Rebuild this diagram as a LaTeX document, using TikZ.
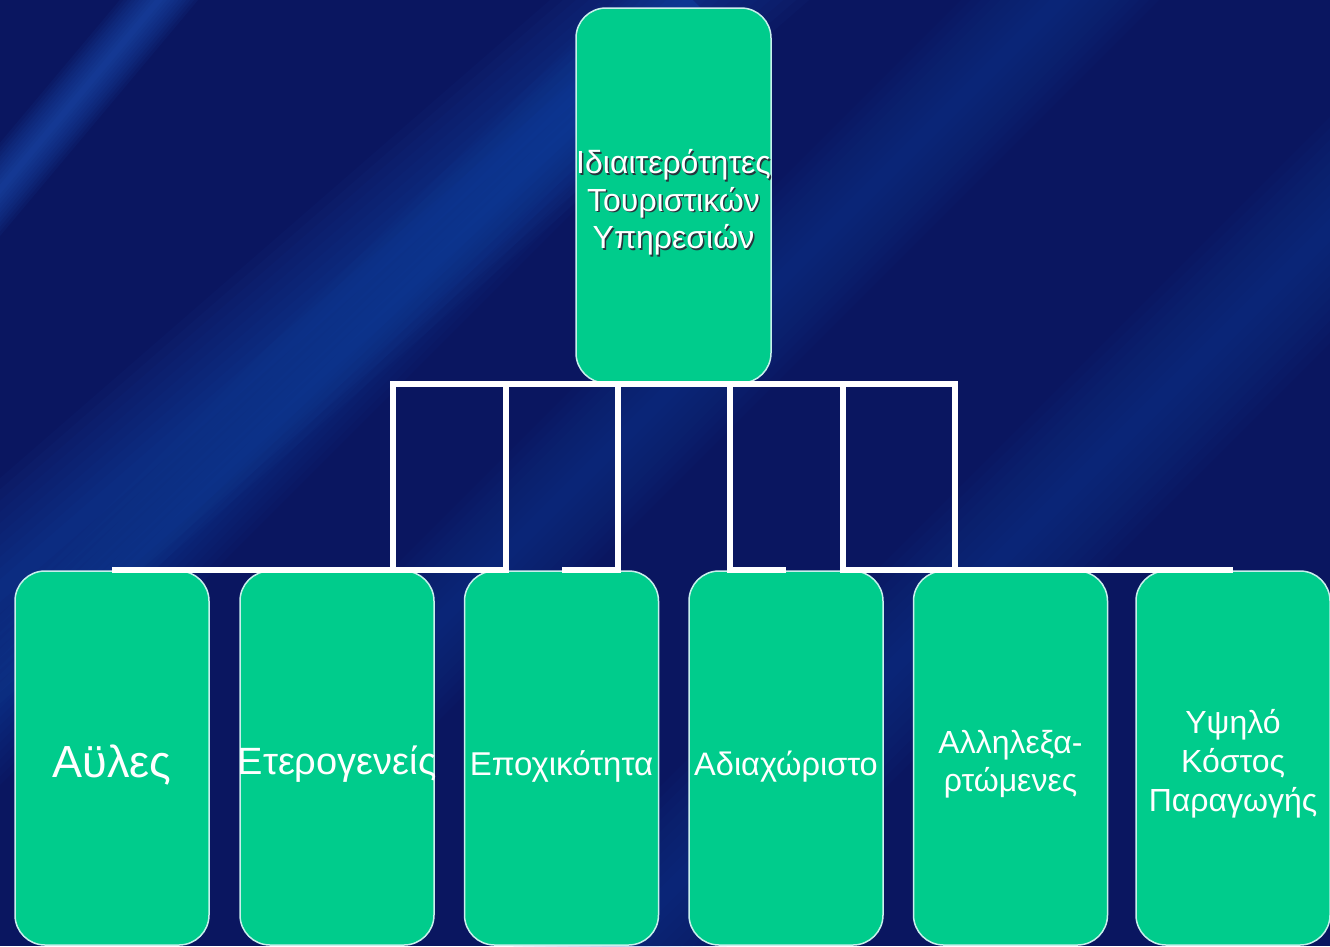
\documentclass[tikz,border=0pt]{standalone}
\usepackage{fontspec}
\setmainfont{Liberation Sans}
\definecolor{bgc}{RGB}{10,22,96}
\definecolor{streak}{RGB}{35,95,200}
\definecolor{boxfill}{RGB}{0,204,140}
\definecolor{boxline}{RGB}{200,240,236}
\definecolor{shcol}{RGB}{40,50,60}
\newcommand\shd[1]{\leavevmode\rlap{\kern1.5pt\raisebox{-1.5pt}{\textcolor{shcol}{#1}}}#1}
\newcommand\lbl[4]{\raisebox{-#4pt}[\height][\depth]{\makebox[0pt]{\fontsize{#1}{#2}\selectfont\begin{tabular}{@{}c@{}}#3\end{tabular}}}}
\newcommand\band[5]{%
  \begin{scope}[shift={(#1,#2)}, rotate=#3]
    \foreach \k in {1,...,10}{\fill[streak, opacity=#5] (-#4*\k/10,-900) rectangle (#4*\k/10,900);}
  \end{scope}}
\tikzset{
  box/.style={draw=boxline, line width=1.5pt, fill=boxfill, rounded corners=30pt,
    minimum width=194pt, minimum height=374pt, inner sep=0pt, text=white},
  conn/.style={draw=white, line width=6pt}
}
\begin{document}
\begin{tikzpicture}[x=1pt,y=-1pt]
\useasboundingbox (0,0) rectangle (1330,946);
\begin{scope}
  \clip (0,0) rectangle (1330,946);
  \fill[bgc] (0,0) rectangle (1330,946);
  \band{75}{100}{-40}{30}{0.07}
  \band{300}{330}{-49}{85}{0.045}
  \band{60}{640}{-45}{60}{0.04}
  \band{1000}{60}{-45}{70}{0.03}
  \band{1200}{360}{-45}{80}{0.03}
\end{scope}
% nodes
\node[box, minimum width=195pt, minimum height=375pt] (root) at (673.5,195.5)
  {\lbl{32}{37.5}{\shd{Ιδιαιτερότητες}\\ \shd{Τουριστικών}\\ \shd{Υπηρεσιών}}{8}};
\node[box] (c1) at (112,758) {\lbl{45}{50}{Αϋλες}{9}};
\node[box] (c2) at (337,758) {\lbl{38}{44}{Ετερογενείς}{8}};
\node[box] (c3) at (561.5,758) {\lbl{33}{38}{Εποχικότητα}{10}};
\node[box] (c4) at (786,758) {\lbl{32.5}{38}{Αδιαχώριστο}{10}};
\node[box] (c5) at (1010.5,758) {\lbl{32}{38}{Αλληλεξα-\\ ρτώμενες}{7}};
\node[box] (c6) at (1233,758) {\lbl{32}{39}{Υψηλό\\ Κόστος\\ Παραγωγής}{7}};
% connector columns
\coordinate (v1) at (393,0);
\coordinate (v2) at (506,0);
\coordinate (v3) at (618,0);
\coordinate (v4) at (730,0);
\coordinate (v5) at (843,0);
\coordinate (v6) at (955,0);
\foreach \i in {1,...,6}{
  \draw[conn] (root.south) -- (root.south -| v\i) |- (c\i.north);
}
\end{tikzpicture}
\end{document}
